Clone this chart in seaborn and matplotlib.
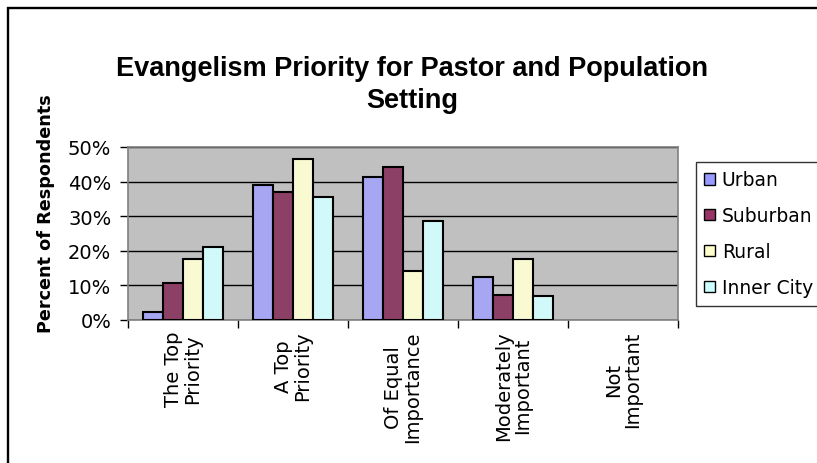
import numpy as np
import pandas as pd
import matplotlib
matplotlib.use("Agg")
import matplotlib.pyplot as plt
from matplotlib.patches import Rectangle
import seaborn as sns

# Data (percent of respondents)
categories = ["The Top\nPriority", "A Top\nPriority", "Of Equal\nImportance",
              "Moderately\nImportant", "Not\nImportant"]
urban = [2.3, 38.9, 41.4, 12.3, 0.0]
suburban = [10.7, 37.0, 44.3, 7.3, 0.0]
rural = [17.7, 46.4, 14.1, 17.7, 0.0]
inner_city = [21.2, 35.5, 28.6, 6.9, 0.0]
settings = ["Urban", "Suburban", "Rural", "Inner City"]
colors = ["#9999FF", "#993366", "#FFFFCC", "#CCFFFF"]

df = pd.DataFrame({"category": categories, "Urban": urban, "Suburban": suburban,
                   "Rural": rural, "Inner City": inner_city})
long_df = df.melt(id_vars="category", var_name="setting", value_name="pct")

sns.set_style("white")
plt.rcParams["font.family"] = ["DejaVu Sans"]
for key in ["text.color", "axes.labelcolor", "xtick.color", "ytick.color"]:
    plt.rcParams[key] = "black"

fig = plt.figure(figsize=(8.17, 4.64), dpi=100)
ax = fig.add_axes([128 / 817, 1 - 321 / 464, 550 / 817, 173 / 464])

sns.barplot(data=long_df, x="category", y="pct", hue="setting",
            hue_order=settings, palette=dict(zip(settings, colors)),
            width=0.73, gap=0, edgecolor="black", linewidth=1.5,
            errorbar=None, ax=ax, zorder=3)

# zero-height bars leave no mark
for p in ax.patches:
    if p.get_height() == 0:
        p.set_visible(False)

ax.set_facecolor("#C0C0C0")
ax.set_ylim(0, 50)
ax.set_xlim(-0.5, 4.5)
ax.set_yticks(np.arange(0, 51, 10))
ax.set_yticklabels([f"{v}%" for v in range(0, 51, 10)], fontsize=14)
ax.yaxis.grid(True, color="black", linewidth=1, zorder=1)
ax.set_axisbelow(True)

ax.set_xticks(range(len(categories)))
ax.set_xticklabels(categories, rotation=90, fontsize=14, va="top",
                   ha="center", multialignment="center", linespacing=1.0)
ax.set_xticks(np.arange(-0.5, 5, 1), minor=True)
ax.tick_params(axis="x", which="major", length=0, pad=7.5)
ax.tick_params(axis="x", which="minor", length=6, width=1, color="black",
               direction="out", bottom=True)
ax.tick_params(axis="y", length=6, width=1, color="black", direction="out",
               left=True, pad=6)

for s in ax.spines.values():
    s.set_color("#808080")
    s.set_linewidth(1.2)

ax.set_xlabel("")
ax.set_ylabel("")
fig.text(46 / 817, 1 - 214 / 464, "Percent of Respondents", rotation=90,
         ha="center", va="center", fontsize=12.7, fontweight="bold")

fig.text(412 / 817, 1 - 85 / 464,
         "Evangelism Priority for Pastor and Population\nSetting",
         ha="center", va="center", fontsize=19.5, fontweight="bold",
         family="Liberation Sans", linespacing=1.3)

ax.get_legend().remove()
handles = [Rectangle((0, 0), 1, 1, facecolor=c, edgecolor="black", linewidth=1)
           for c in colors]
leg = fig.legend(handles, settings, loc="upper left",
                 bbox_to_anchor=(696 / 817, 1 - 163 / 464),
                 fontsize=13.5, frameon=True, fancybox=False,
                 handlelength=0.57, handleheight=0.57, handletextpad=0.35,
                 labelspacing=0.9, borderpad=0.45, borderaxespad=0)
leg.get_frame().set_edgecolor("black")
leg.get_frame().set_linewidth(1)

# chart border
fig.patches.append(Rectangle((8 / 817, -0.05), 1.1, 1 - 8.5 / 464 + 0.05,
                             transform=fig.transFigure, fill=False,
                             edgecolor="black", linewidth=1.7))

fig.savefig("out.png", dpi=100)
